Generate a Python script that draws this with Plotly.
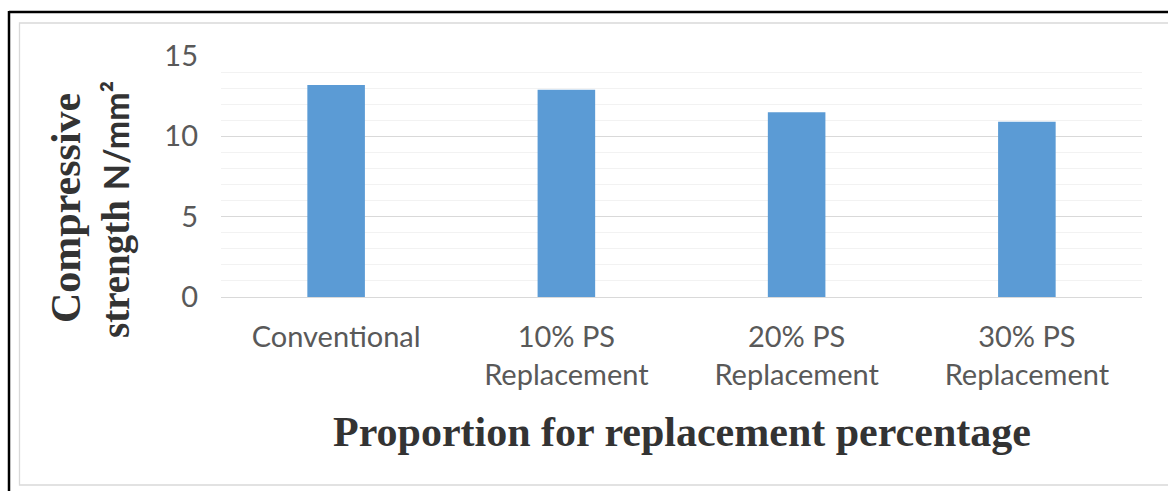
import plotly.graph_objects as go

categories = ["Conventional", "10% PS<br>Replacement", "20% PS<br>Replacement", "30% PS<br>Replacement"]
strength = [13.2, 12.9, 11.5, 10.9]
y_ticks = [0, 5, 10, 15]

W, H = 1168, 491
L, R, T, B = 221, 26, 56, 194
PW, PH = W - L - R, H - T - B

def px(x):
    return (x - L) / PW

def py(y):
    return (H - B - y) / PH

fig = go.Figure(go.Bar(
    x=categories, y=strength, width=0.25,
    marker=dict(color="#5B9BD5", line=dict(width=0)),
))

tick_font = dict(family="Lato, Open Sans, sans-serif", size=29, color="#595959")

fig.update_layout(
    width=W, height=H,
    margin=dict(l=L, r=R, t=T, b=B),
    paper_bgcolor="white", plot_bgcolor="white",
    showlegend=False,
    bargap=0.75,
    xaxis=dict(
        showgrid=False, zeroline=False, showline=False,
        tickfont=tick_font, ticks="", ticklabelstandoff=20,
    ),
    yaxis=dict(
        range=[0, 15], tickvals=y_ticks, ticktext=[str(v) for v in y_ticks],
        showgrid=True, gridcolor="#D9D9D9", gridwidth=1,
        zeroline=True, zerolinecolor="#D9D9D9", zerolinewidth=1.3,
        showline=False, ticks="", tickfont=tick_font, ticklabelstandoff=22,
        minor=dict(dtick=1, showgrid=True, gridcolor="#F2F2F2", gridwidth=1),
    ),
    shapes=[
        # outer black frame (top and left)
        dict(type="line", xref="paper", yref="paper", x0=px(9), x1=px(1170), y0=py(12), y1=py(12),
             line=dict(color="black", width=2.5)),
        dict(type="line", xref="paper", yref="paper", x0=px(9), x1=px(9), y0=py(11), y1=py(495),
             line=dict(color="black", width=2.5)),
        # gray chart-area border
        dict(type="rect", xref="paper", yref="paper", x0=px(19.5), x1=px(1175), y0=py(23), y1=py(485),
             line=dict(color="#D9D9D9", width=1.3), layer="below"),
    ],
    annotations=[
        dict(text="<b>Proportion for replacement percentage</b>", xref="paper", yref="paper",
             x=px(682), y=py(432), xanchor="center", yanchor="middle", showarrow=False,
             font=dict(family="Liberation Serif, Times New Roman, serif", size=42, color="#333333")),
        dict(text="<b>Compressive</b>", xref="paper", yref="paper", textangle=-90,
             x=px(66), y=py(208), xanchor="center", yanchor="middle", showarrow=False,
             font=dict(family="Liberation Serif, Times New Roman, serif", size=42, color="#333333")),
        dict(text="<b>strength <span style='font-family:Lato, sans-serif;font-size:34px'>N/mm²</span></b>",
             xref="paper", yref="paper", textangle=-90,
             x=px(116), y=py(210), xanchor="center", yanchor="middle", showarrow=False,
             font=dict(family="Liberation Serif, Times New Roman, serif", size=39, color="#333333")),
    ],
)

fig.write_html("out.html")
